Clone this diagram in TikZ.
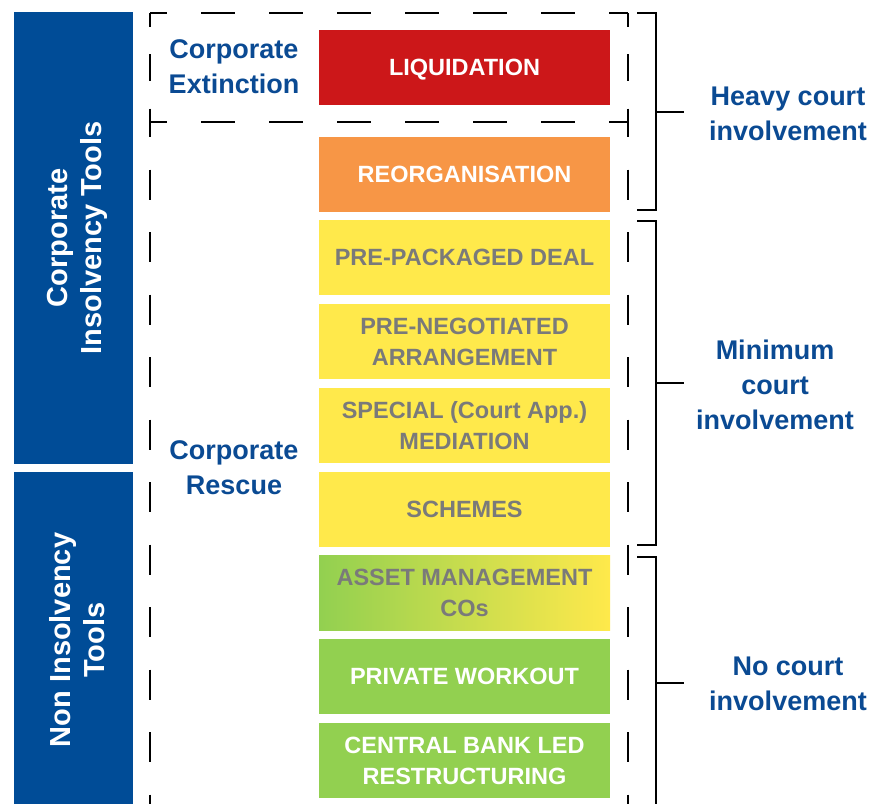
\documentclass[tikz,border=0pt]{standalone}
\usepackage{fontspec}
\setmainfont{Liberation Sans}
\definecolor{cred}{HTML}{CC1719}
\definecolor{corange}{HTML}{F79646}
\definecolor{cyellow}{HTML}{FFE94B}
\definecolor{cgreen}{HTML}{92D050}
\definecolor{cbar}{HTML}{004C97}
\definecolor{cblue}{HTML}{0A4A93}
\definecolor{cgray}{HTML}{7A7A7A}
\begin{document}
\begin{tikzpicture}[x=1pt,y=-1pt,
  tool/.style={minimum width=291pt, minimum height=75pt, inner sep=0pt, align=center,
    font=\fontsize{23.5}{31}\selectfont\bfseries, text=white},
  ytool/.style={tool, fill=cyellow, text=cgray},
  gtool/.style={tool, fill=cgreen},
  lbl/.style={align=center, text=cblue, font=\fontsize{27}{35}\selectfont\bfseries, inner sep=0pt},
  bartext/.style={align=center, text=white, rotate=90, font=\fontsize{29}{34}\selectfont\bfseries, inner sep=0pt},
  hdash/.style={line width=2pt, dash pattern=on 34pt off 34pt, dash phase=17pt},
  vdashA/.style={line width=2pt, dash pattern=on 27pt off 27.5pt, dash phase=13.5pt},
  vdashB/.style={line width=2pt, dash pattern=on 30pt off 32.5pt, dash phase=15pt},
  brk/.style={line width=2pt}]
\useasboundingbox (0,0) rectangle (871,804);
% left bars
\fill[cbar] (14,12) rectangle (133,464);
\fill[cbar] (14,472) rectangle (133,804);
\node[bartext] (cit) at (77,238) {Corporate\\Insolvency Tools};
\node[bartext] (nit) at (77,640) {Non Insolvency\\Tools};
% tool boxes
\node[tool, fill=cred, text depth=0pt] (liq) at (464.5,67.5) {LIQUIDATION};
\node[tool, fill=corange] (reo) at (464.5,174) {REORGANISATION};
\node[ytool] (ppd) at (464.5,257.5) {PRE-PACKAGED DEAL};
\node[ytool] (pna) at (464.5,341.5) {PRE-NEGOTIATED\\ARRANGEMENT};
\node[ytool] (spm) at (464.5,425.5) {SPECIAL (Court App.)\\MEDIATION};
\node[ytool] (sch) at (464.5,509.5) {SCHEMES};
\node[tool, left color=cgreen, right color=cyellow, text=cgray] (amc) at (464.5,593) {ASSET MANAGEMENT\\COs};
\node[gtool] (pwo) at (464.5,676.5) {PRIVATE WORKOUT};
\node[gtool] (cbl) at (464.5,760.5) {CENTRAL BANK LED\\RESTRUCTURING};
% dashed boxes
\draw[hdash] (150,13) -- (628,13);
\draw[hdash] (150,122) -- (628,122);
\draw[vdashA] (150,13) -- (150,122);
\draw[vdashA] (628,13) -- (628,122);
\draw[vdashB] (150,122) -- (150,804);
\draw[vdashB] (628,122) -- (628,804);
\node[lbl] (ext) at (234,67) {Corporate\\Extinction};
\node[lbl] (res) at (234,468) {Corporate\\Rescue};
% brackets
\coordinate (h1) at (637,13); \coordinate (h2) at (656,13);
\coordinate (h3) at (656,210); \coordinate (h4) at (637,210);
\coordinate (hm) at (656,112); \coordinate (ht) at (684,112);
\draw[brk] (h1) -- (h2) -- (h3) -- (h4);
\draw[brk] (hm) -- (ht);
\coordinate (m1) at (637,221); \coordinate (m2) at (656,221);
\coordinate (m3) at (656,545); \coordinate (m4) at (637,545);
\coordinate (mm) at (656,383); \coordinate (mt) at (684,383);
\draw[brk] (m1) -- (m2) -- (m3) -- (m4);
\draw[brk] (mm) -- (mt);
\coordinate (n1) at (637,557); \coordinate (n2) at (656,557);
\coordinate (n3) at (656,804);
\coordinate (nm) at (656,683); \coordinate (nt) at (684,683);
\draw[brk] (n1) -- (n2) -- (n3);
\draw[brk] (nm) -- (nt);
\node[lbl] (hcl) at (788,114) {Heavy court\\involvement};
\node[lbl] (mcl) at (775,385) {Minimum\\court\\involvement};
\node[lbl] (ncl) at (788,684) {No court\\involvement};
\end{tikzpicture}
\end{document}
